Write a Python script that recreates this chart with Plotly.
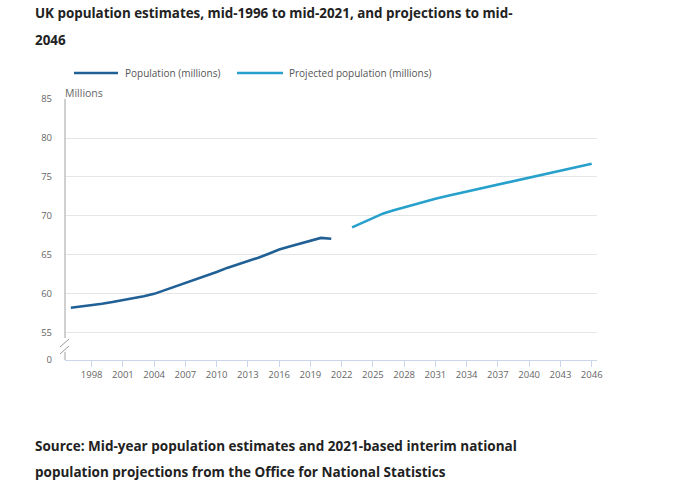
import plotly.graph_objects as go

# ---- data ----
est_years = list(range(1996, 2022))
est_values = [58.16, 58.31, 58.48, 58.68, 58.89, 59.11, 59.37, 59.64, 59.95, 60.41,
              60.83, 61.32, 61.82, 62.26, 62.76, 63.29, 63.71, 64.11, 64.60, 65.11,
              65.65, 66.04, 66.44, 66.80, 67.15, 67.03]
proj_years = list(range(2023, 2047))
proj_values = [68.5, 69.1, 69.7, 70.3, 70.7, 71.1, 71.5, 71.85, 72.2, 72.5, 72.8, 73.1,
               73.45, 73.75, 74.05, 74.35, 74.65, 74.95, 75.2, 75.5, 75.8, 76.1, 76.4, 76.7]
x_ticks = list(range(1998, 2047, 3))
y_ticks = [55, 60, 65, 70, 75, 80, 85]
y_break_label = "0"

title_lines = ["UK population estimates, mid-1996 to mid-2021, and projections to mid-", "2046"]
source_lines = ["Source: Mid-year population estimates and 2021-based interim national",
                "population projections from the Office for National Statistics"]
series_names = ["Population (millions)", "Projected population (millions)"]
colors = ["#206095", "#27a0cc"]

W, H = 680, 497
L, R, T, B = 65, 83, 99, 137
PW, PH = W - L - R, H - T - B
Y_BOTTOM = 51.44
FONT = "Open Sans"


def px(xp):
    return (xp - L) / PW


def py(yp):
    return (H - B - yp) / PH


fig = go.Figure()
fig.add_trace(go.Scatter(x=est_years, y=est_values, mode="lines",
                         line=dict(color=colors[0], width=2.6), showlegend=False,
                         name=series_names[0]))
fig.add_trace(go.Scatter(x=proj_years, y=proj_values, mode="lines",
                         line=dict(color=colors[1], width=2.6), showlegend=False,
                         name=series_names[1]))

shapes = []
annotations = []
# y axis line with break
shapes.append(dict(type="line", xref="paper", yref="paper", x0=0, x1=0,
                   y0=py(338), y1=1, line=dict(color="#c0c0c0", width=1.5)))
shapes.append(dict(type="line", xref="paper", yref="paper", x0=0, x1=0,
                   y0=0, y1=py(352), line=dict(color="#c0c0c0", width=1.5)))
# break marks
for dy in (0, 7):
    shapes.append(dict(type="line", xref="paper", yref="paper",
                       x0=px(60), x1=px(69), y0=py(347 + dy), y1=py(339 + dy),
                       line=dict(color="#999999", width=1)))

# legend (custom)
leg = [(74, 118, 123), (237, 283, 287)]
for (x0, x1, xt), name, c in zip(leg, series_names, colors):
    shapes.append(dict(type="line", xref="paper", yref="paper", x0=px(x0), x1=px(x1),
                       y0=py(73), y1=py(73), line=dict(color=c, width=2.6)))
    annotations.append(dict(xref="paper", yref="paper", x=px(xt), y=py(73), text=name,
                            showarrow=False, xanchor="left", yanchor="middle",
                            font=dict(family=FONT, size=10, color="#555555")))

# titles
for txt, yp in zip(title_lines, (13, 40)):
    annotations.append(dict(xref="paper", yref="paper", x=px(33), y=py(yp), text="<b>%s</b>" % txt,
                            showarrow=False, xanchor="left", yanchor="middle",
                            font=dict(family=FONT, size=13.4, color="#222222")))
for txt, yp in zip(source_lines, (446, 472)):
    annotations.append(dict(xref="paper", yref="paper", x=px(33), y=py(yp), text="<b>%s</b>" % txt,
                            showarrow=False, xanchor="left", yanchor="middle",
                            font=dict(family=FONT, size=13.5, color="#222222")))
annotations.append(dict(xref="paper", yref="paper", x=px(63), y=py(93), text="Millions",
                        showarrow=False, xanchor="left", yanchor="middle",
                        font=dict(family=FONT, size=10.5, color="#666666")))

fig.update_layout(
    width=W, height=H, margin=dict(l=L, r=R, t=T, b=B, pad=0),
    plot_bgcolor="white", paper_bgcolor="white",
    font=dict(family=FONT, size=9.5, color="#666666"),
    shapes=shapes, annotations=annotations, showlegend=False,
    xaxis=dict(range=[1995.44, 2046.51], tickvals=x_ticks, showgrid=False,
               showline=True, linecolor="#ccd6eb", linewidth=1,
               ticks="outside", ticklen=6, tickcolor="#ccd6eb",
               tickfont=dict(family=FONT, size=9.5, color="#666666"), zeroline=False),
    yaxis=dict(range=[Y_BOTTOM, 85.02], tickvals=[Y_BOTTOM] + y_ticks,
               ticktext=[y_break_label] + [str(v) for v in y_ticks],
               showgrid=True, gridcolor="#e6e6e6", gridwidth=1, showline=False,
               ticks="", ticklabelstandoff=12, zeroline=False,
               tickfont=dict(family=FONT, size=9.5, color="#666666")),
)

fig.write_html("out.html", config={"displayModeBar": False},
               post_script="document.body.style.margin='0px';document.body.style.overflow='hidden';")
